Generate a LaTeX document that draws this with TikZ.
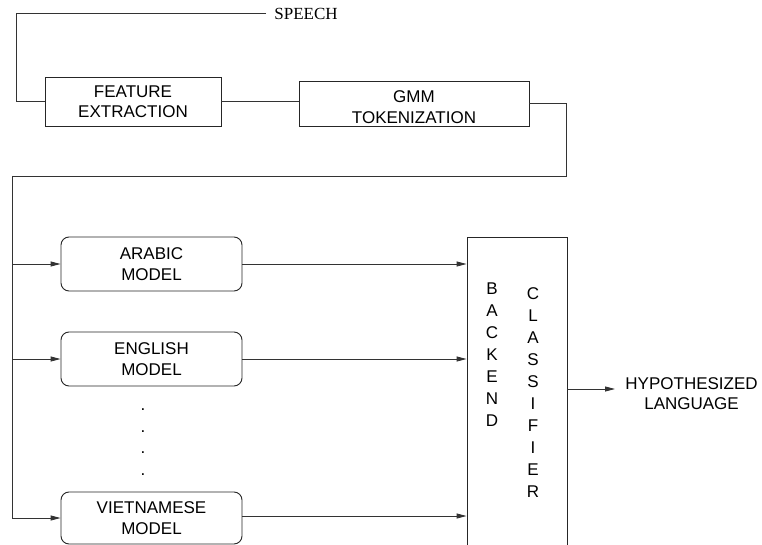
\documentclass[tikz,border=0pt]{standalone}
\usepackage{fontspec}
\setmainfont{Liberation Serif}
\setsansfont{Liberation Sans}
\usetikzlibrary{arrows.meta}
\begin{document}
\begin{tikzpicture}[x=1pt,y=-1pt,
  line width=0.9pt,
  wire/.style={draw=black!80},
  feed/.style={wire,-{Triangle[length=10pt,width=5pt]}},
  sqbox/.style={draw=black!85,rectangle,inner sep=0pt,align=center,
    font=\sffamily\fontsize{17}{20.5}\selectfont},
  modelbox/.style={sqbox,rounded corners=8pt,minimum width=181pt,minimum height=54pt},
  lbl/.style={inner sep=0pt,align=center,font=\sffamily\fontsize{17}{20.5}\selectfont},
  letters/.style={inner sep=0pt,align=center,font=\sffamily\fontsize{17}{22}\selectfont}]
\useasboundingbox (0,0) rectangle (762,545);
\clip (0,0) rectangle (762,545);
\fill[white] (0,0) rectangle (762,545);

% front end
\node[anchor=west,inner sep=0pt,inner xsep=8pt,font=\rmfamily\fontsize{17}{20}\selectfont]
  (speech) at (266,13.5) {SPEECH};
\node[sqbox,minimum width=176pt,minimum height=49pt] (fe) at (133,101.5)
  {FEATURE\\EXTRACTION};
\node[sqbox,minimum width=230pt,minimum height=45pt] (gmm) at (414,103.5) {};
\node[lbl] (gmmtxt) at (414,107) {GMM\\TOKENIZATION};

% language models
\node[modelbox] (ar) at (151.5,264) {ARABIC\\MODEL};
\node[modelbox] (en) at (151.5,359) {ENGLISH\\MODEL};
\node[modelbox,minimum height=52pt] (vi) at (151.5,518) {VIETNAMESE\\MODEL};
\foreach \yy [count=\i] in {410,432,453,475}
  \node[lbl,anchor=base] (dot\i) at (143,\yy) {.};

% backend classifier
\node[draw=black!85,rectangle,minimum width=100pt,minimum height=363pt,inner sep=0pt]
  (be) at (517,418.5) {};
\node[letters] (bk) at (492,355) {B\\A\\C\\K\\E\\N\\D};
\node[letters] (cl) at (533,393) {C\\L\\A\\S\\S\\I\\F\\I\\E\\R};
\node[lbl,anchor=west] (hyp) at (625,393.5) {HYPOTHESIZED\\LANGUAGE};

% connectors
\coordinate (tl) at (16,13.5);
\draw[wire] (speech.west) -- (tl) |- (fe.west);
\draw[wire] (fe.east) -- (fe.east -| gmm.west);
\coordinate (rt) at (566,176);
\coordinate (bus) at (12,176);
\draw[wire] (gmm.east) -| (rt) -- (bus);
\draw[feed] (bus) |- (vi.west);
\draw[feed] (ar.west -| bus) -- (ar.west);
\draw[feed] (en.west -| bus) -- (en.west);
\draw[feed] (ar.east) -- (ar.east -| be.west);
\draw[feed] (en.east) -- (en.east -| be.west);
\coordinate (vo) at (242,516);
\draw[feed] (vo) -- (vo -| be.west);
\coordinate (outend) at (615,389);
\draw[feed] (outend -| be.east) -- (outend);
\end{tikzpicture}
\end{document}
